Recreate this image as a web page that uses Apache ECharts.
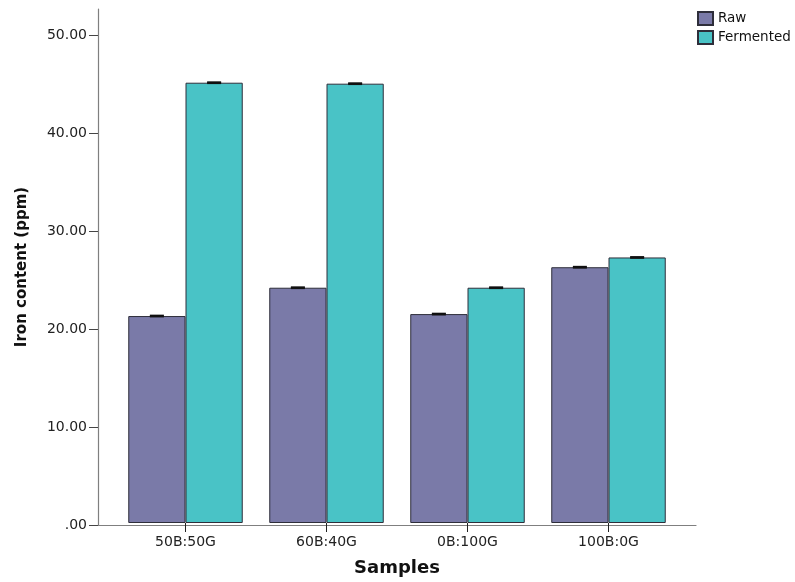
<!DOCTYPE html>
<html>
<head>
<meta charset="utf-8">
<script src="https://cdn.jsdelivr.net/npm/echarts@6/dist/echarts.min.js"></script>
<style>
html,body{margin:0;padding:0;background:#fff;}
#chart{width:795px;height:582px;}
</style>
</head>
<body>
<div id="chart"></div>
<script>
var categories = ['50B:50G', '60B:40G', '0B:100G', '100B:0G'];
var seriesNames = ['Raw', 'Fermented'];
var rawValues = [21.2, 24.1, 21.4, 26.2];
var fermentedValues = [45.1, 45.0, 24.1, 27.2];
var rawErrors = [0.05, 0.05, 0.05, 0.05];
var fermentedErrors = [0.05, 0.05, 0.05, 0.05];
var yTickValues = [0, 10, 20, 30, 40, 50];
var yTickLabels = ['.00', '10.00', '20.00', '30.00', '40.00', '50.00'];

var FONT = 'DejaVu Sans';
var colors = ['#7a7aa8', '#49c3c6'];
var yMax = 52.65;
var barPct = 0.406;

var chart = echarts.init(document.getElementById('chart'), null, {renderer: 'canvas'});

function errSeries(values, errs, sIdx) {
  var data = values.map(function (v, i) { return [i, v, errs[i]]; });
  return {
    type: 'custom',
    xAxisIndex: 1,
    yAxisIndex: 1,
    silent: true,
    z: 10,
    data: data,
    renderItem: function (params, api) {
      var i = api.value(0), v = api.value(1), e = api.value(2);
      var band = api.size([1, 0])[0];
      var bw = band * barPct;
      var c = api.coord([i, v]);
      var x = c[0] + (sIdx === 0 ? -bw / 2 : bw / 2);
      var yHi = api.coord([i, v + e])[1];
      var yLo = api.coord([i, v - e])[1];
      var half = 7;
      var st = {stroke: '#111', lineWidth: 1.8};
      return {
        type: 'group',
        children: [
          {type: 'line', shape: {x1: x, y1: yHi, x2: x, y2: yLo}, style: st},
          {type: 'line', shape: {x1: x - half, y1: yHi, x2: x + half, y2: yHi}, style: st},
          {type: 'line', shape: {x1: x - half, y1: yLo, x2: x + half, y2: yLo}, style: st}
        ]
      };
    }
  };
}

var option = {
  backgroundColor: '#ffffff',
  animation: false,
  textStyle: {fontFamily: FONT},
  legend: {
    orient: 'vertical',
    left: 692,
    top: 6,
    itemWidth: 15,
    itemHeight: 13,
    itemGap: 4,
    icon: 'rect',
    data: seriesNames,
    textStyle: {fontFamily: FONT, fontSize: 13.5, color: '#111'}
  },
  grid: [
    {left: 98, top: 9, width: 598, bottom: 57},
    {left: 115, top: 9, width: 564, bottom: 57}
  ],
  xAxis: [
    {
      gridIndex: 0, type: 'value', min: 0, max: 1,
      axisLine: {show: true, onZero: false, lineStyle: {color: '#7f7f7f', width: 1.2}},
      axisTick: {show: false}, axisLabel: {show: false}, splitLine: {show: false}
    },
    {
      gridIndex: 1, type: 'category', data: categories, boundaryGap: true,
      axisLine: {show: false},
      axisTick: {show: true, alignWithLabel: true, length: 9, lineStyle: {color: '#222', width: 1}},
      axisLabel: {margin: 12, fontFamily: FONT, fontSize: 14, color: '#222'},
      name: 'Samples', nameLocation: 'middle', nameGap: 36,
      nameTextStyle: {fontFamily: FONT, fontSize: 18, fontWeight: 'bold', color: '#111'},
      splitLine: {show: false}
    }
  ],
  yAxis: [
    {
      gridIndex: 0, type: 'value', min: 0, max: yMax,
      axisLine: {show: true, lineStyle: {color: '#7f7f7f', width: 1.2}},
      axisTick: {show: true, length: 9, customValues: yTickValues, lineStyle: {color: '#444', width: 1}},
      axisLabel: {
        margin: 11, fontFamily: FONT, fontSize: 14, color: '#222',
        customValues: yTickValues,
        formatter: function (val) {
          var idx = yTickValues.indexOf(val);
          return idx >= 0 ? yTickLabels[idx] : '';
        }
      },
      splitLine: {show: false},
      name: 'Iron content (ppm)', nameLocation: 'middle', nameGap: 68,
      nameTextStyle: {fontFamily: FONT, fontSize: 15, fontWeight: 'bold', color: '#111'}
    },
    {
      gridIndex: 1, type: 'value', min: 0, max: yMax, show: false,
      splitLine: {show: false}
    }
  ],
  series: [
    {
      name: seriesNames[0], type: 'bar', xAxisIndex: 1, yAxisIndex: 1,
      data: rawValues, barWidth: (barPct * 100) + '%', barGap: '0%',
      itemStyle: {color: colors[0], borderColor: '#2e2e3a', borderWidth: 1}
    },
    {
      name: seriesNames[1], type: 'bar', xAxisIndex: 1, yAxisIndex: 1,
      data: fermentedValues, barWidth: (barPct * 100) + '%', barGap: '0%',
      itemStyle: {color: colors[1], borderColor: '#2e2e3a', borderWidth: 1}
    },
    errSeries(rawValues, rawErrors, 0),
    errSeries(fermentedValues, fermentedErrors, 1)
  ]
};
chart.setOption(option);
</script>
</body>
</html>
